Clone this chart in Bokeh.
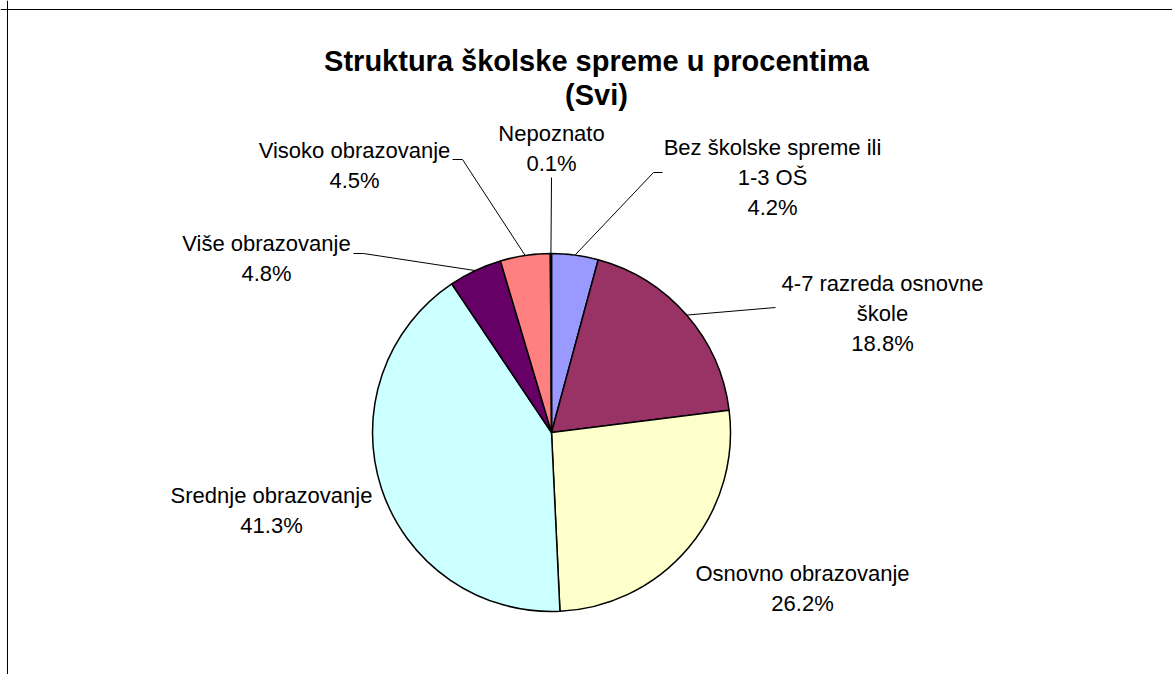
import math
from bokeh.plotting import figure
from bokeh.models import ColumnDataSource, Span
from bokeh.core.properties import value
from bokeh.embed import file_html
from bokeh.resources import INLINE

# ---- data ----
categories = ["Bez školske spreme ili\n1-3 OŠ", "4-7 razreda osnovne\nškole", "Osnovno obrazovanje",
              "Srednje obrazovanje", "Više obrazovanje", "Visoko obrazovanje", "Nepoznato"]
values = [4.2, 18.8, 26.2, 41.3, 4.8, 4.5, 0.1]
colors = ["#9999FF", "#993366", "#FFFFCC", "#CCFFFF", "#660066", "#FF8080", "#0066CC"]
title_lines = ["Struktura školske spreme u procentima", "(Svi)"]

# ---- layout (screen pixels in the 1173x675 window) ----
W, H = 1172, 674
OX, OY = 0, 0
def sx(X):
    return X - OX
def sy(Y):
    return (OY + H) - Y

CX, CY, R = 551, 432, 179
FONT = "Liberation Sans"
LABEL_PX = "22px"
LINE_SP = 30
# label block: centre x, first baseline y
label_pos = [(772, 147), (882, 283), (802, 573), (271, 495), (266, 243), (354, 150), (551, 133)]
# leader line points after the slice edge point (None = no leader)
leaders = [[(653, 172), (662, 172)], [(775, 307)], None, None,
           [(363, 253), (353, 253)], [(462, 159), (452, 159)], [(551, 177)]]

p = figure(width=W, height=H, x_range=(0, W), y_range=(0, H), min_border=0,
           x_axis_type=None, y_axis_type=None, toolbar_location=None,
           output_backend="svg")
p.grid.visible = False
p.outline_line_color = None
p.background_fill_color = "white"
p.border_fill_color = "white"

# chart area border (left and top visible)
p.add_layout(Span(location=sx(7), dimension="height", line_color="black", line_width=1))
p.add_layout(Span(location=sy(9), dimension="width", line_color="black", line_width=1))

total = sum(values)
starts, ends, mids = [], [], []
cum = 0.0
for v in values:
    a0 = math.pi / 2 - 2 * math.pi * cum / total
    cum += v
    a1 = math.pi / 2 - 2 * math.pi * cum / total
    starts.append(a1)
    ends.append(a0)
    mids.append((a0 + a1) / 2)

src = ColumnDataSource(dict(x=[sx(CX)] * len(values), y=[sy(CY)] * len(values),
                            start=starts, end=ends, color=colors))
p.wedge(x="x", y="y", radius=R, start_angle="start", end_angle="end",
        fill_color="color", line_color="black", line_width=1.5, source=src)

# leader lines
lx, ly = [], []
for m, pts in zip(mids, leaders):
    if pts is None:
        continue
    ex = sx(CX) + R * math.cos(m)
    ey = sy(CY) + R * math.sin(m)
    lx.append([ex] + [sx(a) for a, b in pts])
    ly.append([ey] + [sy(b) for a, b in pts])
p.multi_line(xs=lx, ys=ly, line_color="black", line_width=1)

# labels
tx, ty, tt = [], [], []
for cat, v, (cx, by) in zip(categories, values, label_pos):
    lines = cat.split("\n") + [f"{v:.1f}%"]
    for i, ln in enumerate(lines):
        tx.append(sx(cx))
        ty.append(sy(by + i * LINE_SP))
        tt.append(ln)
p.text(x=tx, y=ty, text=tt, text_align="center", text_baseline="alphabetic",
       text_font=value(FONT), text_font_size=LABEL_PX, text_color="black")

# title
p.text(x=[sx(596), sx(596)], y=[sy(60), sy(94)], text=title_lines,
       text_align="center", text_baseline="alphabetic", text_font=value(FONT),
       text_font_size="29px", text_font_style="bold", text_color="black")

open("out.html", "w").write(file_html(p, INLINE))
